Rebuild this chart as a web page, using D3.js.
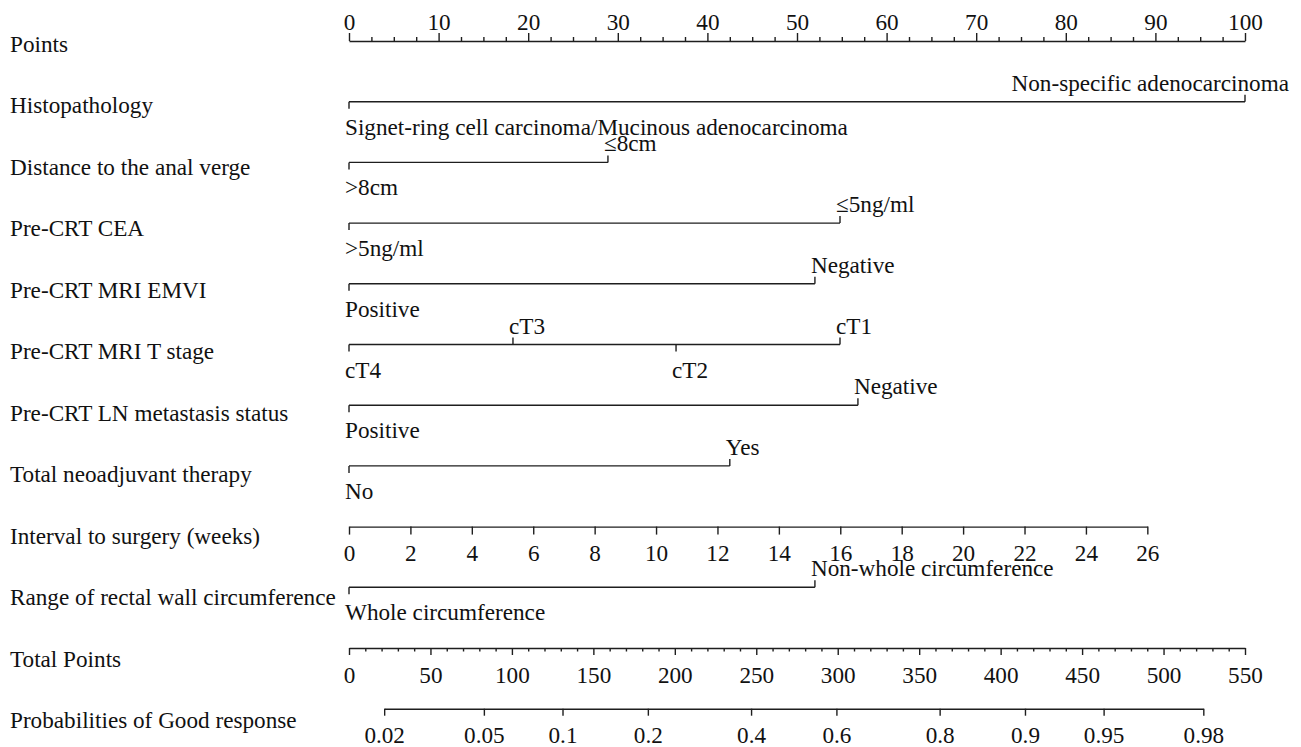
<!DOCTYPE html>
<html>
<head>
<meta charset="utf-8">
<script src="https://cdn.jsdelivr.net/npm/d3@7"></script>
<style>
  html, body { margin: 0; padding: 0; background: #fff; }
  svg text { font-family: "Liberation Serif", "Times New Roman", serif; font-size: 23.2px; fill: #111; }
  .axis path, .axis line, .cat line { stroke: #1e1e1e; stroke-width: 1.4; fill: none; }
</style>
</head>
<body>
<svg id="chart" width="1301" height="747"></svg>
<script>
// Row titles, top to bottom
const rowNames = [
  "Points",
  "Histopathology",
  "Distance to the anal verge",
  "Pre-CRT CEA",
  "Pre-CRT MRI EMVI",
  "Pre-CRT MRI T stage",
  "Pre-CRT LN metastasis status",
  "Total neoadjuvant therapy",
  "Interval to surgery (weeks)",
  "Range of rectal wall circumference",
  "Total Points",
  "Probabilities of Good response"
];

// Points scale ticks
const pointTicks = [0, 10, 20, 30, 40, 50, 60, 70, 80, 90, 100];

// Categorical predictors: levels and their points
const histLevels = ["Signet-ring cell carcinoma/Mucinous adenocarcinoma", "Non-specific adenocarcinoma"];
const histPoints = [0, 100];
const distLevels = [">8cm", "≤8cm"];
const distPoints = [0, 28.9];
const ceaLevels = [">5ng/ml", "≤5ng/ml"];
const ceaPoints = [0, 54.8];
const emviLevels = ["Positive", "Negative"];
const emviPoints = [0, 52.0];
const tStageLevels = ["cT4", "cT3", "cT2", "cT1"];
const tStagePoints = [0, 18.3, 36.5, 54.8];
const lnLevels = ["Positive", "Negative"];
const lnPoints = [0, 56.8];
const tntLevels = ["No", "Yes"];
const tntPoints = [0, 42.5];
const rangeLevels = ["Whole circumference", "Non-whole circumference"];
const rangePoints = [0, 52.0];

// Continuous predictor: interval to surgery
const intervalTicks = [0, 2, 4, 6, 8, 10, 12, 14, 16, 18, 20, 22, 24, 26];
const intervalMaxWeeks = 26;
const intervalMaxPoints = 89.1;

// Total points and probability scales
const totalTicks = [0, 50, 100, 150, 200, 250, 300, 350, 400, 450, 500, 550];
const probTicks = [0.02, 0.05, 0.1, 0.2, 0.4, 0.6, 0.8, 0.9, 0.95, 0.98];
const totalAtHalf = 273.0;      // total points where probability = 0.5
const totalPerLogit = 64.6;     // total points per unit of the linear predictor

// ---------- layout ----------
const svg = d3.select("#chart");
const x0 = 349, x1 = 1245;
const lineY = i => 41 + 60.7 * i;
const titleY = i => 51.5 + 61.5 * i;

const px = d3.scaleLinear().domain([0, 100]).range([x0, x1]);
const tx = d3.scaleLinear().domain([0, 550]).range([x0, x1]);
const wx = d3.scaleLinear().domain([0, intervalMaxWeeks]).range([px(0), px(intervalMaxPoints)]);
const logit = p => Math.log(p / (1 - p));
const probX = p => tx(totalAtHalf + totalPerLogit * logit(p));

// Row titles
svg.append("g").selectAll("text")
  .data(rowNames)
  .join("text")
  .attr("x", 10)
  .attr("y", (d, i) => titleY(i))
  .text(d => d);

// Generic axis helper
function drawAxis(row, scale, ticks, fmt, top, minor, majorLen, minorLen) {
  const y = lineY(row);
  const make = top ? d3.axisTop : d3.axisBottom;
  if (minor && minor.length) {
    const gm = svg.append("g").attr("class", "axis").attr("transform", `translate(0,${y})`)
      .call(make(scale).tickValues(minor).tickSize(minorLen).tickSizeOuter(0).tickFormat(() => ""));
    gm.select(".domain").remove();
  }
  const g = svg.append("g").attr("class", "axis").attr("transform", `translate(0,${y})`)
    .call(make(scale).tickValues(ticks).tickSize(majorLen).tickSizeOuter(0).tickFormat(fmt));
  g.selectAll("text").attr("y", top ? -11.5 : 34.5).attr("dy", null);
  return g;
}

// Points axis (top)
const pointMinor = d3.range(0, 100.01, 2.5).filter(v => v % 10 !== 0);
drawAxis(0, px, pointTicks, d3.format("d"), true, pointMinor, 8, 4);

// Categorical rows
function drawFactor(row, levels, points) {
  const y = lineY(row);
  const g = svg.append("g").attr("class", "cat");
  const xs = points.map(p => px(p));
  g.append("line")
    .attr("x1", d3.min(xs)).attr("x2", d3.max(xs))
    .attr("y1", y).attr("y2", y);
  const order = d3.range(levels.length).sort((a, b) => points[a] - points[b]);
  order.forEach((k, rank) => {
    const above = rank % 2 === 1;
    const xk = px(points[k]);
    g.append("line")
      .attr("x1", xk).attr("x2", xk)
      .attr("y1", y).attr("y2", above ? y - 7 : y + 7);
    const t = g.append("text")
      .attr("y", above ? y - 11 : y + 33)
      .text(levels[k]);
    const w = t.node().getComputedTextLength();
    t.attr("x", Math.min(xk - 4, 1289 - w));
  });
}

drawFactor(1, histLevels, histPoints);
drawFactor(2, distLevels, distPoints);
drawFactor(3, ceaLevels, ceaPoints);
drawFactor(4, emviLevels, emviPoints);
drawFactor(5, tStageLevels, tStagePoints);
drawFactor(6, lnLevels, lnPoints);
drawFactor(7, tntLevels, tntPoints);

// Interval to surgery (continuous)
drawAxis(8, wx, intervalTicks, d3.format("d"), false, null, 8, 0);

drawFactor(9, rangeLevels, rangePoints);

// Total points axis
const totalMinor = d3.range(0, 550.01, 10).filter(v => v % 50 !== 0);
drawAxis(10, tx, totalTicks, d3.format("d"), false, totalMinor, 7, 3.5);

// Probability axis, positioned through the logit link
const probScale = p => probX(p);
probScale.copy = () => probScale;
probScale.range = () => [probX(probTicks[0]), probX(probTicks[probTicks.length - 1])];
probScale.domain = () => [probTicks[0], probTicks[probTicks.length - 1]];
drawAxis(11, probScale, probTicks, d => String(d), false, null, 7, 0);
</script>
</body>
</html>
